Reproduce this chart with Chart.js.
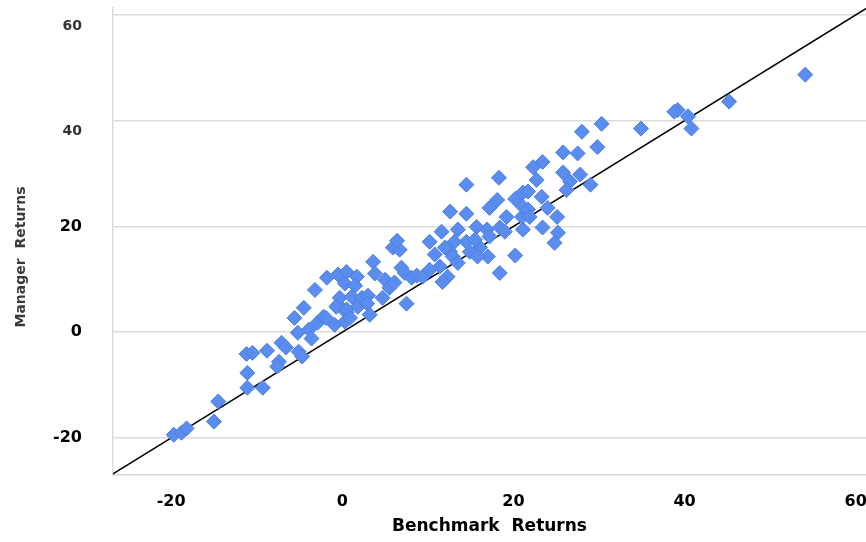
<!DOCTYPE html>
<html>
<head>
<meta charset="utf-8">
<script src="https://cdn.jsdelivr.net/npm/chart.js@4.4.1/dist/chart.umd.min.js"></script>
<style>
  html, body { margin: 0; padding: 0; background: #ffffff; }
  #wrap { width: 866px; height: 542px; }
</style>
</head>
<body>
<div id="wrap"><canvas id="chart" width="866" height="542"></canvas></div>
<script>
// Annual returns: benchmark (x) against manager (y)
const benchmarkReturns = [
  -19.7, -18.8, -18.2, -15.0, -14.5, -11.1, -11.1, -9.3, -11.2, -10.5,
  -8.8, -7.4, -7.6, -7.1, -6.6, -5.1, -4.7, -5.2, -5.6, -4.5,
  -3.9, -3.6, -2.9, -2.2, -0.9, -0.5, 0.5, 0.3, -1.9, -3.2,
  -1.8, -0.5, 0.5, 1.7, 0.3, 1.5, -0.3, 1.1, 2.3, 3.0,
  -0.7, 0.5, 1.8, 2.9, 3.2, 0.9, 3.6, 3.8, 5.0, 5.5,
  4.7, 5.9, 6.7, 6.4, 6.9, 7.3, 8.1, 8.7, 9.4, 7.5,
  6.1, 14.5, 18.3, 12.6, 14.5, 17.2, 18.1, 20.2, 21.1, 21.0,
  19.2, 11.6, 10.2, 13.5, 15.7, 16.9, 18.4, 19.0, 17.2, 16.1,
  14.5, 14.9, 13.1, 12.6, 12.0, 10.8, 11.4, 12.9, 13.5, 17.0,
  20.2, 18.4, 12.3, 11.7, 10.2, 15.5, 15.8, 30.3, 28.0, 29.8,
  25.8, 27.5, 23.4, 22.3, 22.7, 25.8, 27.8, 26.6, 26.2, 29.0,
  21.7, 23.3, 21.1, 21.7, 24.0, 25.1, 21.9, 21.1, 23.4, 25.2,
  24.8, 34.9, 39.2, 38.8, 40.4, 40.8, 45.2, 54.1
];
const managerReturns = [
  -19.4, -19.0, -18.2, -16.9, -13.1, -7.7, -10.5, -10.5, -4.1, -3.9,
  -3.5, -5.6, -6.5, -2.0, -2.9, -3.7, -4.6, -0.1, 2.7, 4.6,
  0.5, -1.2, 1.8, 2.9, 1.4, 5.2, 3.7, 2.0, 2.7, 8.0,
  10.3, 10.9, 11.4, 10.5, 9.2, 8.8, 6.5, 6.7, 6.5, 6.9,
  4.8, 4.3, 4.8, 5.4, 3.3, 2.7, 13.3, 11.1, 9.9, 8.4,
  6.5, 16.0, 15.6, 17.3, 12.2, 11.2, 10.3, 10.7, 10.5, 5.4,
  9.4, 27.9, 29.2, 22.8, 22.4, 23.5, 25.0, 25.2, 26.4, 21.8,
  21.8, 19.0, 17.1, 19.4, 19.9, 19.4, 19.8, 19.0, 18.1, 16.0,
  17.1, 15.2, 17.1, 15.2, 16.0, 14.7, 12.4, 14.3, 13.1, 14.3,
  14.5, 11.2, 10.5, 9.5, 11.8, 17.5, 14.3, 39.4, 37.9, 35.0,
  34.0, 33.8, 32.2, 31.2, 28.8, 30.2, 29.8, 28.5, 26.9, 27.9,
  26.6, 25.6, 23.7, 23.2, 23.5, 21.8, 21.8, 19.4, 19.8, 18.8,
  16.9, 38.5, 42.0, 41.7, 40.8, 38.5, 43.6, 48.7
];

const xTickValues = [-20, 0, 20, 40, 60];
const yTickValues = [-20, 0, 20, 40, 60];
const xRange = [-26.8, 61.2];
const yRange = [-27, 61.3];
const xTitle = 'Benchmark  Returns';
const yTitle = 'Manager  Returns';

const FONT = '"DejaVu Sans", Verdana, sans-serif';

// 45-degree reference line (manager = benchmark) across the plot
const lineStart = Math.min(xRange[0], yRange[0]);
const lineEnd = Math.max(xRange[1], yRange[1]);

// Rotated y-axis title
const yTitlePlugin = {
  id: 'yAxisTitle',
  afterDraw(chart) {
    const ctx = chart.ctx;
    ctx.save();
    ctx.translate(21, 257);
    ctx.rotate(-Math.PI / 2);
    ctx.font = 'bold 14px ' + FONT;
    ctx.fillStyle = '#3a3a3a';
    ctx.textAlign = 'center';
    ctx.textBaseline = 'middle';
    ctx.fillText(yTitle, 0, 0);
    ctx.restore();
  }
};

new Chart(document.getElementById('chart'), {
  type: 'scatter',
  data: {
    datasets: [
      {
        label: 'Returns',
        data: benchmarkReturns.map((x, i) => ({ x, y: managerReturns[i] })),
        pointStyle: 'rectRot',
        pointRadius: 7.5,
        pointHoverRadius: 7.5,
        backgroundColor: '#5b8def',
        borderColor: '#4c7fe3',
        borderWidth: 1,
        order: 1
      },
      {
        label: 'Benchmark line',
        data: [{ x: lineStart, y: lineStart }, { x: lineEnd, y: lineEnd }],
        showLine: true,
        borderColor: '#000000',
        borderWidth: 1.5,
        pointRadius: 0,
        pointHoverRadius: 0,
        order: 2
      }
    ]
  },
  options: {
    responsive: false,
    animation: false,
    devicePixelRatio: 1,
    layout: { autoPadding: false, padding: { top: 8, right: 0, left: 0, bottom: 0 } },
    plugins: {
      legend: { display: false },
      tooltip: { enabled: false }
    },
    scales: {
      x: {
        type: 'linear',
        min: xRange[0],
        max: xRange[1],
        afterBuildTicks: axis => { axis.ticks = xTickValues.map(v => ({ value: v })); },
        grid: { display: false, drawTicks: false },
        border: { display: true, color: '#d9d9d9', width: 1.5 },
        ticks: {
          font: { family: FONT, size: 16, weight: 'bold' },
          color: '#000000',
          padding: 17,
          maxRotation: 0,
          autoSkip: false
        },
        title: {
          display: true,
          text: xTitle,
          font: { family: FONT, size: 17, weight: 'bold' },
          color: '#000000',
          padding: { top: 0, bottom: 5 }
        },
        afterFit: scale => {
          scale.height = 67;
          scale.paddingLeft = 0;
          scale.paddingRight = 0;
        }
      },
      y: {
        type: 'linear',
        min: yRange[0],
        max: yRange[1],
        afterBuildTicks: axis => { axis.ticks = yTickValues.map(v => ({ value: v })); },
        grid: { color: '#dcdcdc', lineWidth: 1.5, drawTicks: false },
        border: { display: true, color: '#dcdcdc', width: 1.5 },
        ticks: {
          font: ctx => (ctx.tick && ctx.tick.value >= 40)
            ? { family: FONT, size: 14, weight: 'bold', lineHeight: 1.6 }
            : { family: FONT, size: 16, weight: 'bold' },
          color: ctx => (ctx.tick && ctx.tick.value >= 40) ? '#333333' : '#000000',
          callback: v => v >= 40 ? ['', String(v)] : String(v),
          padding: 31,
          autoSkip: false
        },
        afterFit: scale => {
          scale.width = 113;
          scale.paddingTop = 0;
          scale.paddingBottom = 0;
        }
      }
    }
  },
  plugins: [yTitlePlugin]
});
</script>
</body>
</html>
